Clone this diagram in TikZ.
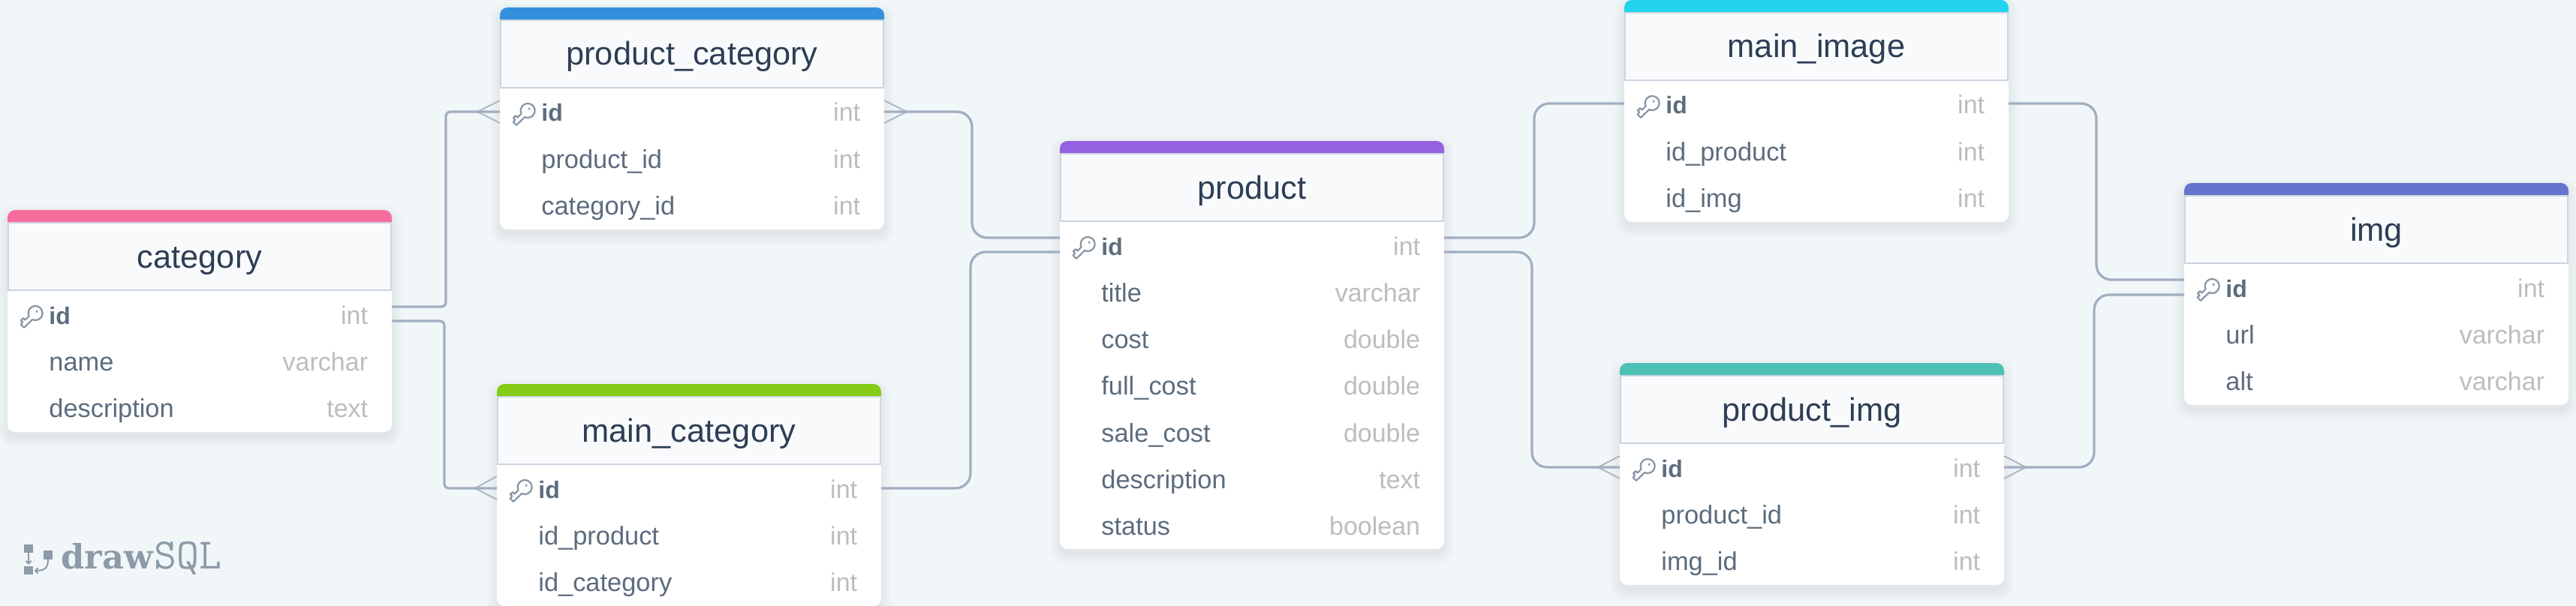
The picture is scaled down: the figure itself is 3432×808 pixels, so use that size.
\documentclass[tikz,border=0pt]{standalone}
\usepackage{fontspec}
\setmainfont{Liberation Sans}
\newfontfamily\logoserif{DejaVu Serif}
\definecolor{bgc}{HTML}{F1F6F9}
\definecolor{headc}{HTML}{F9FAFC}
\definecolor{borderc}{HTML}{CBD5E0}
\definecolor{linec}{HTML}{A0AEC0}
\definecolor{titlec}{HTML}{2D3E55}
\definecolor{rowc}{HTML}{5C6C7E}
\definecolor{typec}{HTML}{BDBDBD}
\definecolor{keyc}{HTML}{8596A5}
\definecolor{logoc}{HTML}{8D9BA8}
\definecolor{cpink}{HTML}{F66D9B}
\definecolor{cblue}{HTML}{3490DC}
\definecolor{cgreen}{HTML}{84CC16}
\definecolor{cpurple}{HTML}{9561E2}
\definecolor{ccyan}{HTML}{22D3EE}
\definecolor{cteal}{HTML}{4DC0B5}
\definecolor{cindigo}{HTML}{6574CD}
\tikzset{
  tablebody/.style={fill=white,rounded corners=5pt,inner sep=0pt,outer sep=0pt,anchor=north west,minimum width=256pt},
  headbox/.style={fill=headc,draw=borderc,line width=1pt},
  tabletitle/.style={inner sep=0pt,anchor=base,text=titlec,font=\fontsize{21.7}{24}\selectfont},
  rowname/.style={inner sep=0pt,anchor=base west,text=rowc,font=\fontsize{17.2}{20}\selectfont},
  rowtype/.style={inner sep=0pt,anchor=base east,text=typec,font=\fontsize{17}{20}\selectfont},
  conn/.style={draw=linec,line width=1.6pt},
  crow/.style={draw=linec,line width=1pt,opacity=.85},
  keyline/.style={draw=keyc,line width=1.1pt,line join=round},
  logomark/.style={fill=logoc},
  logoline/.style={draw=logoc,line width=1pt,line cap=round}
}
\newcommand{\dbkey}[2]{%
  \begin{scope}[shift={(#1,#2)},rotate=225]
    \draw[keyline] (8.46,3.08) arc[start angle=20,end angle=340,radius=9.5]
      -- (24,-3.08) -- (24,3) -- (20,3) -- (20,6.5) -- (15.5,6.5) -- (15.5,3) -- cycle;
    \fill[keyc] (-3.5,0) circle[radius=1.8];
  \end{scope}}
\newcommand{\dbtable}[7]{%
  \foreach \s in {14,12,...,0}
    \fill[black,opacity=.009,rounded corners=5pt+0.5pt*\s] (#2-\s,#3+7-\s) rectangle (#2+512+\s,#3+#4+7+\s);
  \node[tablebody,minimum height=#4*0.5pt] (#1) at (#2,#3) {};
  \fill[#5,rounded corners=5pt] (#2,#3+16) -- (#2,#3) -- (#2+512,#3) [sharp corners] -- (#2+512,#3+16) -- cycle;
  \draw[headbox] (#2+1,#3+17) rectangle (#2+511,#3+107);
  \draw[borderc,line width=1pt] (#2,#3+107) -- (#2+512,#3+107);
  \node[tabletitle] (#1title) at (#2+256,#3+77) {#6};
  \foreach \nm/\ty [count=\k from 0] in {#7} {
    \ifnum\k=0
      \node[rowname,font=\fontsize{16}{18}\selectfont\bfseries] (#1name\k) at (#2+55,#3+152) {\nm};
      \dbkey{#2+36.7}{#3+137.7}
    \else
      \node[rowname] (#1name\k) at (#2+55,#3+152+62.3*\k) {\nm};
    \fi
    \node[rowtype] (#1type\k) at (#2+480.5,#3+152+62.3*\k) {\ty};
  }}
\begin{document}
\begin{tikzpicture}[x=0.5pt,y=-0.5pt]
\useasboundingbox (0,0) rectangle (3432,808);
\fill[bgc] (0,0) rectangle (3432,808);

\dbtable{category}{10}{280}{296}{cpink}{category}{id/int,name/varchar,description/text}
\dbtable{productcategory}{666}{10}{296}{cblue}{product\_category}{id/int,product\_id/int,category\_id/int}
\dbtable{maincategory}{662}{512}{296}{cgreen}{main\_category}{id/int,id\_product/int,id\_category/int}
\dbtable{product}{1412}{188}{544}{cpurple}{product}{id/int,title/varchar,cost/double,full\_cost/double,sale\_cost/double,description/text,status/boolean}
\dbtable{mainimage}{2164}{0}{296}{ccyan}{main\_image}{id/int,id\_product/int,id\_img/int}
\dbtable{productimg}{2158}{484}{296}{cteal}{product\_img}{id/int,product\_id/int,img\_id/int}
\dbtable{img}{2910}{244}{296}{cindigo}{img}{id/int,url/varchar,alt/varchar}

% connectors
\draw[conn,rounded corners=3pt] (category.east |- 0,409) -- (594,409) -- (594,149) -- (productcategory.west |- 0,149);
\draw[crow] (productcategory.west |- 0,134) -- (636,149) -- (productcategory.west |- 0,164);
\draw[conn,rounded corners=3pt] (category.east |- 0,428) -- (592,428) -- (592,651) -- (maincategory.west |- 0,651);
\draw[crow] (maincategory.west |- 0,635) -- (633,651) -- (maincategory.west |- 0,666);
\draw[conn,rounded corners=10pt] (productcategory.east |- 0,149) -- (1295,149) -- (1295,317) -- (product.west |- 0,317);
\draw[crow] (productcategory.east |- 0,134) -- (1208,149) -- (productcategory.east |- 0,164);
\draw[conn,rounded corners=10pt] (maincategory.east |- 0,651) -- (1293,651) -- (1293,336) -- (product.west |- 0,336);
\draw[conn,rounded corners=10pt] (product.east |- 0,317) -- (2044,317) -- (2044,138) -- (mainimage.west |- 0,138);
\draw[conn,rounded corners=10pt] (product.east |- 0,336) -- (2041,336) -- (2041,623) -- (productimg.west |- 0,623);
\draw[crow] (productimg.west |- 0,608) -- (2129,623) -- (productimg.west |- 0,638);
\draw[conn,rounded corners=10pt] (mainimage.east |- 0,138) -- (2793,138) -- (2793,373) -- (img.west |- 0,373);
\draw[conn,rounded corners=10pt] (productimg.east |- 0,623) -- (2790,623) -- (2790,393) -- (img.west |- 0,393);
\draw[crow] (productimg.east |- 0,608) -- (2699,623) -- (productimg.east |- 0,638);

% logo
\fill[logomark] (32,726) rectangle (44,737);
\fill[logomark] (32,755) rectangle (44,766);
\fill[logomark] (58,734) rectangle (70,746);
\draw[logoline] (38,737) -- (38,751);
\draw[logoline] (34.5,748) -- (38,751.5) -- (41.5,748);
\draw[logoline] (64,746) .. controls (64,757) and (60,761) .. (47,761);
\draw[logoline] (50.5,757.5) -- (47,761) -- (50.5,764.5);
\node[inner sep=0pt,anchor=base west,text=logoc,font=\logoserif\bfseries\fontsize{22.4}{24}\selectfont] (logodraw) at (81,758) {draw};
\node[inner sep=0pt,anchor=base west,text=logoc,font=\ttfamily\fontsize{29}{30}\selectfont] (logosql) at (205,758) {SQL};
\end{tikzpicture}
\end{document}
